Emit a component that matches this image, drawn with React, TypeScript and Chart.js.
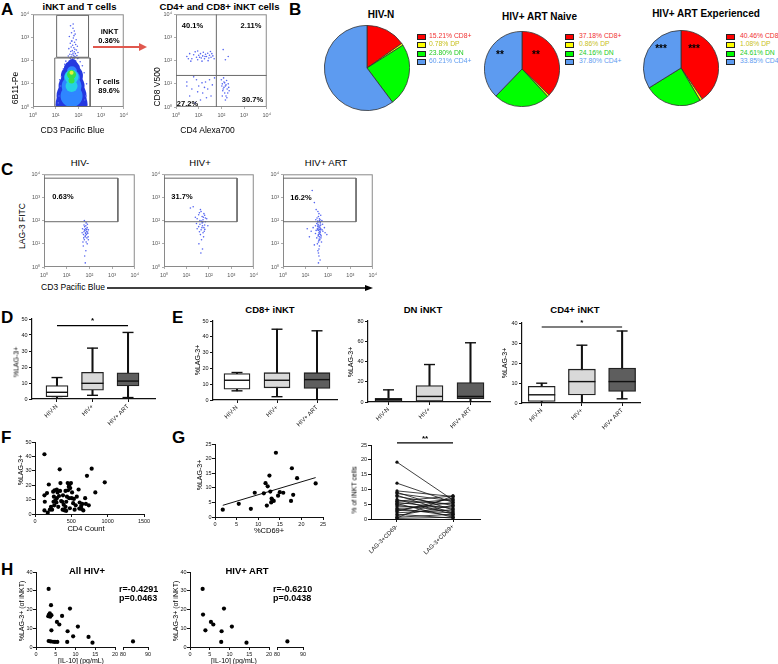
import React, { useEffect, useRef } from 'react';
import { Chart, registerables } from 'chart.js';

Chart.register(...registerables);
const FONT = "'Liberation Sans', Arial, Helvetica, sans-serif";
Chart.defaults.font.family = FONT;
Chart.defaults.color = '#111';

// ---------------- DATA ----------------
// Panel A: flow plots (CD3 vs 6B11, CD4 vs CD8)
const A1_INKT = [[45,3200],[58,2500],[66,1900],[50,1600],[72,1400],[40,1100],[60,950],[80,800],[52,700],[68,620],[44,560],[76,500],[56,460],[90,420],[48,390],[63,360],[38,330],[70,310],[82,290],[54,270],[46,250],[66,240],[96,225],[58,210],[74,200],[42,190],[52,180],[62,172],[86,165],[36,158],[70,150],[48,145],[60,140],[78,136],[104,132],[55,128],[65,126],[44,125],[92,124],[50,700],[64,1200],[59,3800]];
const A1_TSPARSE = [[14,3],[16,8],[13,1.5],[18,20],[22,45],[210,3],[230,10],[180,30],[25,70],[150,60],[190,2],[15,15],[120,90],[28,95]];
const A1_DENS_1 = [[50,1.3,16],[50,3,15],[50,8,13],[52,22,11],[52,45,8],[55,75,4.5],[35,1.2,10],[75,1.2,10]];
const A1_DENS_2 = [[50,3,11],[50,8,10],[52,18,8],[52,35,5]];
const A1_DENS_3 = [[50,8,6],[50,20,7]];
const A1_DENS_4 = [[50,25,4.5],[50,14,3]];
const A1_DENS_5 = [[50,30,2]];
const A1_GATE_INKT = [11, 280, 140, 9000];
const A1_GATE_T = [9.1, 330, 1.05, 130];

const A2_CD8 = [[3,150],[4,200],[5,120],[6,180],[7,240],[8,140],[9,110],[10,170],[12,200],[13,130],[15,160],[16,230],[18,120],[20,190],[22,150],[25,210],[28,130],[30,170],[35,140],[38,200],[42,160],[48,120],[4.5,95],[9,260],[14,95],[26,100],[33,250],[3.5,120],[11,140],[19,150]];
const A2_DN = [[3,12],[5,6],[8,15],[4,3],[10,8],[15,4],[20,12],[6,20],[25,6],[12,2],[30,15],[40,9],[7,1.5],[18,7],[35,3],[3,8],[50,18],[9,4.5],[14,11],[22,2.5]];
const A2_CD4 = [[100,15],[110,10],[120,6],[130,12],[140,4],[150,8],[160,3],[170,14],[180,6],[200,10],[220,5],[110,3],[130,7],[150,2],[125,18],[160,9],[190,4],[140,11],[115,5],[175,2.5],[210,7],[105,8]];
const A2_DP = [[150,110],[200,150],[120,300]];
const A2_QUAD = [60, 23];

// Panel B: pies
const PIE_LABELS = ['CD8+', 'DP', 'DN', 'CD4+'];
const PIE_HIVN = [15.21, 0.78, 23.80, 60.21];
const PIE_NAIVE = [37.18, 0.86, 24.16, 37.80];
const PIE_EXPER = [40.46, 1.08, 24.61, 33.85];

// Panel C: LAG-3 vs CD3
const C_GATE = [1, 1800, 90, 6800];
const C_HIVN = [[60,40],[70,30],[55,25],[80,50],[65,20],[75,35],[50,45],[85,28],[60,15],[70,60],[90,40],[58,33],[66,22],[78,18],[62,55],[72,12],[54,8],[68,45],[82,70],[48,30],[74,25],[64,38],[88,20],[56,18],[76,42],[70,5],[62,3],[80,10],[66,1.5],[60,100],[72,80],[58,65],[84,32],[52,12],[90,15],[68,28]];
const C_HIVP = [[40,100],[50,150],[30,120],[60,200],[45,250],[35,180],[55,110],[25,140],[70,130],[42,300],[48,95],[65,170],[38,220],[20,400],[15,350],[52,60],[40,70],[60,50],[45,40],[35,55],[55,30],[50,80],[65,65],[30,45],[42,25],[58,20],[47,15],[62,35],[36,10],[52,6],[44,4],[70,90],[28,75],[66,42],[54,88],[80,120],[90,60],[38,33],[49,50],[57,140]];
const C_ART = [[35,40],[40,30],[22,50],[45,60],[38,25],[42,20],[18,35],[48,45],[36,70],[44,15],[60,35],[28,28],[40,55],[46,80],[32,18],[38,12],[42,8],[36,5],[40,3],[45,2],[38,1.5],[34,45],[47,25],[70,50],[30,38],[41,42],[39,65],[43,33],[37,22],[49,18],[35,95],[42,120],[38,150],[45,110],[33,130],[40,200],[30,300],[48,170],[36,250],[25,600],[20,2000],[42,100],[55,40],[75,30],[28,60],[15,20],[52,12],[58,70],[44,50],[34,10],[40,6],[25,9],[47,40],[39,38],[43,27],[37,48],[41,16],[50,22],[35,58],[46,32],[44,90],[36,85],[32,75],[48,65],[40,14],[38,4],[54,100],[29,110],[90,25],[12,45]];

// Panel D
const D_CATS = ['HIV-N', 'HIV+', 'HIV+ ART'];
const D_MIN = [0.3, 2.3, 0.9];
const D_Q1 = [1.5, 5.5, 8.2];
const D_MED = [4.2, 9.8, 11.2];
const D_Q3 = [8.4, 16.7, 16.4];
const D_MAX = [13.4, 31.8, 41.6];

// Panel E
const E_CATS = ['HIV-N', 'HIV+', 'HIV+ ART'];
const E_CD8_MIN = [5.8, 2.1, 0];
const E_CD8_Q1 = [6.9, 7.7, 7.3];
const E_CD8_MED = [12.5, 12.5, 12.9];
const E_CD8_Q3 = [16.8, 17.3, 17.3];
const E_CD8_MAX = [17.4, 44.8, 43.8];
const E_DN_MIN = [0, 0, 0];
const E_DN_Q1 = [0.7, 0.7, 3.3];
const E_DN_MED = [2.3, 5.5, 5.5];
const E_DN_Q3 = [3.6, 16.3, 19.3];
const E_DN_MAX = [12, 37, 58.5];
const E_CD4_MIN = [0, 0, 2.1];
const E_CD4_Q1 = [0.8, 4, 5.8];
const E_CD4_MED = [4.1, 10.7, 10.7];
const E_CD4_Q3 = [8.3, 16.9, 17.4];
const E_CD4_MAX = [9.9, 28.9, 36];

// Panel F
const F_CD4 = [130,340,780,715,960,830,130,135,130,190,165,175,205,235,250,260,270,280,295,300,310,320,330,345,350,360,375,385,395,400,410,420,430,440,450,455,465,475,485,495,505,510,525,535,545,560,575,600,615,635,650,665,690,700,740,640,255,265,220,300,420,480,430,380,470,610];
const F_LAG3 = [41.5,31,31.5,26.5,22,15,13,8.5,2.5,20.5,14.5,1,3,3,15.5,12,16.5,9.5,8,11,15,5,12.5,16,21.5,9,8.5,13,6.5,3,2.5,5,8.5,12,21.5,16.5,19,20.5,18,21.5,11,15,7.5,10.5,3,6,12,17,8,5.5,7,2.5,11,7,6,3.5,8.5,6,5,17,16,4,2.2,3,11,3.8];

// Panel G
const G_CD69 = [1.8,5.5,8.3,9.2,11.3,11.7,12.0,12.2,12.6,12.8,13.0,13.1,13.3,13.6,14.1,14.6,15.0,15.8,17.6,17.8,18.1,19.0,23.3];
const G_LAG3 = [2.5,4.5,2.8,8.3,8.1,11.6,3.9,10.5,14.2,8.7,5.0,6.3,5.8,5.5,22.0,7.3,8.5,8.3,5.5,16.7,7.6,13.3,11.5];
const G_FIT_X = [1.8, 23.3];
const G_FIT_Y = [4.0, 13.5];
const P_CATS = ['LAG-3+CD69-', 'LAG-3+CD69+'];
const P_NEG = [19.2,12.1,9.5,9.0,8.6,8.0,7.6,6.6,6.2,6.0,5.6,5.2,5.0,4.6,4.1,3.6,3.1,3.0,2.6,2.1,1.6,1.1,0.6,0.4,0.2];
const P_POS = [6.4,5.6,7.6,3.1,6.1,2.0,4.6,1.6,5.1,7.8,3.6,0.6,6.6,2.6,4.1,1.1,5.6,2.1,7.1,3.1,0.3,4.6,1.6,7.8,0.6];

// Panel H
const H1_IL10 = [3.2,3.8,3.3,3.1,3.9,3.5,3.6,3.9,3.2,3.7,4.3,4.8,5.4,5.3,5.9,6.6,8.6,8.0,7.9,9.4,10.6,13.3,14.3,84];
const H1_LAG3 = [31,22.3,17.3,16.4,17,17.9,16.2,8.9,3.2,3,2.8,2.7,2.7,13.4,12,16.6,20.5,8.4,2.7,5.7,10.9,5.4,2.3,3];
const H2_IL10 = [3.2,3.3,3.9,5.3,5.9,8.6,8.0,7.9,10.6,14.3,84];
const H2_LAG3 = [31,17.3,8.9,13.4,12,20.5,8.4,2.7,10.9,2.3,3];

// ---------------- STYLE ----------------
const PIE_COLORS = ['#ff0000', '#ffff00', '#00ff00', '#5d9bf0'];
const PIE_TEXT = ['#f03030', '#c8c020', '#22cc22', '#5d9bf0'];
const SUP = ['⁰', '¹', '²', '³', '⁴'];
const LOG_TICKS = [1, 10, 100, 1000, 10000];
const DOT = '#5565f0';

// ---------------- PLUGINS ----------------
const sigPlugin = {
  id: 'sig',
  afterDatasetsDraw(chart: any, _a: any, o: any) {
    if (!o || !o.lines) return;
    const { ctx, scales } = chart;
    for (const l of o.lines) {
      const x1 = scales.x.getPixelForValue(l.from);
      const x2 = scales.x.getPixelForValue(l.to);
      const y = scales.y.getPixelForValue(l.y);
      ctx.save();
      ctx.strokeStyle = '#000';
      ctx.lineWidth = 1.2;
      ctx.beginPath();
      ctx.moveTo(x1, y);
      ctx.lineTo(x2, y);
      ctx.stroke();
      ctx.fillStyle = '#000';
      ctx.font = `bold 8px ${FONT}`;
      ctx.textAlign = 'center';
      ctx.textBaseline = 'bottom';
      ctx.fillText(l.text, (x1 + x2) / 2, y - 0.5);
      ctx.restore();
    }
  },
};
const framePlugin = {
  id: 'frame',
  beforeDatasetsDraw(chart: any, _a: any, o: any) {
    if (!o || !o.color) return;
    const { ctx, chartArea } = chart;
    ctx.save();
    ctx.strokeStyle = o.color;
    ctx.lineWidth = 1;
    ctx.strokeRect(chartArea.left + 0.5, chartArea.top + 0.5, chartArea.right - chartArea.left - 1, chartArea.bottom - chartArea.top - 1);
    ctx.restore();
  },
};
Chart.register(sigPlugin as any, framePlugin as any);

// ---------------- HELPERS ----------------
type Box = { x: number; y: number; w: number; h: number; ml: number; mt: number; mr: number; mb: number };
function box(L: number, T: number, R: number, B: number, ml: number, mt: number, mr: number, mb: number): Box {
  return { x: L - ml, y: T - mt, w: R - L + ml + mr, h: B - T + mt + mb, ml, mt, mr, mb };
}
function base(b: Box, yShown = true) {
  return {
    responsive: false,
    animation: false,
    devicePixelRatio: 1,
    events: [],
    layout: { autoPadding: false, padding: { left: yShown ? 0 : b.ml, top: b.mt, right: b.mr, bottom: 0 } },
  };
}
const NOPLUG = { legend: { display: false }, tooltip: { enabled: false } };
const pts = (arr: number[][]) => arr.map(([x, y]) => ({ x, y }));
const zipPts = (xs: number[], ys: number[]) => xs.map((x, i) => ({ x, y: ys[i] }));
const rectPts = (g: number[]) => [
  { x: g[0], y: g[2] }, { x: g[0], y: g[3] }, { x: g[1], y: g[3] }, { x: g[1], y: g[2] }, { x: g[0], y: g[2] },
];
const axisGrid = { display: true, drawOnChartArea: false, drawTicks: true, tickLength: 3, color: '#111', lineWidth: 1 };
const axisBorder = { display: true, color: '#111', width: 1.2 };
const plain = (v: number) => String(v);

function logAxis(isX: boolean, b: Box) {
  return {
    type: 'logarithmic',
    min: 1,
    max: 10000,
    afterBuildTicks: (s: any) => { s.ticks = LOG_TICKS.map((v) => ({ value: v })); },
    afterFit: (s: any) => { if (isX) s.height = b.mb; else s.width = b.ml; },
    ticks: {
      autoSkip: false, maxRotation: 0, minRotation: 0, padding: isX ? 3 : 2, color: '#555', font: { size: 5.5 },
      callback: (v: number) => '10' + SUP[Math.round(Math.log10(v))],
    },
    grid: { display: true, drawOnChartArea: false, drawTicks: true, tickLength: 2, color: '#999', lineWidth: 0.8 },
    border: { display: false },
  };
}

function flowConfig(b: Box, bubbles: { d: number[][]; c: string }[], dots: { d: number[][]; c: string }[], lines: { x: number; y: number }[][]) {
  const datasets: any[] = [];
  bubbles.forEach((l, i) => datasets.push({ type: 'bubble', data: l.d.map(([x, y, r]) => ({ x, y, r })), backgroundColor: l.c, borderWidth: 0, clip: 0, order: 20 - i }));
  dots.forEach((s) => datasets.push({ type: 'scatter', data: pts(s.d), backgroundColor: s.c, pointRadius: 0.8, pointBorderWidth: 0, clip: 0, order: 5 }));
  lines.forEach((ln) => datasets.push({ type: 'line', data: ln, borderColor: '#6a6a6a', borderWidth: 1, pointRadius: 0, fill: false, order: 1 }));
  return {
    type: 'scatter',
    data: { datasets },
    options: { ...base(b), scales: { x: logAxis(true, b), y: logAxis(false, b) }, plugins: { ...NOPLUG, frame: { color: '#8a8a8a' } } },
  };
}

function boxConfig(b: Box, cats: string[], mn: number[], q1: number[], md: number[], q3: number[], mx: number[], fills: string[], yMax: number, yStep: number, xMin: number, xMax: number, bw: number, sig: any[], yPad: number) {
  const xy = (arr: number[]) => arr.map((y, i) => ({ x: i, y }));
  const rng = (a: number[], c: number[]) => a.map((v, i) => ({ x: i, y: [v, c[i]] }));
  const mark = (arr: number[], r: number) => ({ type: 'scatter', data: xy(arr), pointStyle: 'line', pointRadius: r, pointBorderColor: '#111', pointBorderWidth: 1.4, order: 1 });
  return {
    type: 'bar',
    data: {
      datasets: [
        { type: 'bar', data: rng(mn, mx), backgroundColor: '#111', barThickness: 1.4, grouped: false, order: 3 },
        { type: 'bar', data: rng(q1, q3), backgroundColor: fills, borderColor: '#222', borderWidth: 1.3, borderSkipped: false, barThickness: bw, grouped: false, order: 2 },
        mark(md, bw / 2),
        mark(mn, 5.5),
        mark(mx, 5.5),
      ],
    },
    options: {
      ...base(b),
      scales: {
        x: {
          type: 'linear', min: xMin, max: xMax, offset: false,
          afterBuildTicks: (s: any) => { s.ticks = cats.map((_, i) => ({ value: i })); },
          afterFit: (s: any) => { s.height = b.mb; },
          ticks: { autoSkip: false, minRotation: 45, maxRotation: 45, padding: 1, font: { size: 6 }, callback: (v: number) => cats[v] },
          grid: { ...axisGrid, offset: false },
          border: axisBorder,
        },
        y: {
          type: 'linear', min: 0, max: yMax,
          afterFit: (s: any) => { s.width = b.ml; },
          ticks: { stepSize: yStep, padding: yPad, font: { size: 5.5 } },
          grid: axisGrid,
          border: axisBorder,
        },
      },
      plugins: { ...NOPLUG, sig: { lines: sig } },
    },
  };
}

function scatterConfig(b: Box, datasets: any[], x: any, y: any, yShown = true) {
  return {
    type: 'scatter',
    data: { datasets },
    options: {
      ...base(b, yShown),
      scales: {
        x: {
          type: 'linear', min: x.min, max: x.max,
          afterFit: (s: any) => { s.height = b.mb; },
          ticks: { stepSize: x.step, padding: 1, font: { size: 5.5 }, maxRotation: 0, autoSkip: false, callback: plain },
          grid: axisGrid, border: { ...axisBorder, width: 1 },
        },
        y: yShown
          ? {
              type: 'linear', min: y.min, max: y.max,
              afterFit: (s: any) => { s.width = b.ml; },
              ticks: { stepSize: y.step, padding: 0.5, font: { size: 5.5 }, callback: plain },
              grid: axisGrid, border: { ...axisBorder, width: 1 },
            }
          : { display: false, min: y.min, max: y.max },
      },
      plugins: NOPLUG,
    },
  };
}

const blackDots = (data: any[]) => ({ type: 'scatter', data, backgroundColor: '#000', pointRadius: 2.1, pointBorderWidth: 0 });

function ChartCanvas({ b, config }: { b: Box; config: () => any }) {
  const ref = useRef<HTMLCanvasElement>(null);
  useEffect(() => {
    const chart = new Chart(ref.current as HTMLCanvasElement, config());
    return () => chart.destroy();
  }, []);
  return <canvas ref={ref} width={b.w} height={b.h} style={{ position: 'absolute', left: b.x, top: b.y, width: b.w, height: b.h }} />;
}

function T({ x, y, s = 8, b = false, a = 'c', c = '#000', children }: any) {
  const tx = a === 'c' ? '-50%' : a === 'r' ? '-100%' : '0';
  return (
    <div style={{ position: 'absolute', left: x, top: y - 0.8465 * s, fontSize: s, lineHeight: `${s}px`, fontWeight: b ? 'bold' : 'normal', color: c, whiteSpace: 'nowrap', transform: `translateX(${tx})` }}>
      {children}
    </div>
  );
}
function VT({ x, y, s = 7, children }: any) {
  return (
    <div style={{ position: 'absolute', left: x, top: y, fontSize: s, lineHeight: `${s}px`, whiteSpace: 'nowrap', color: '#000', transform: 'translate(-50%,-50%) rotate(-90deg)' }}>
      {children}
    </div>
  );
}

function Pie({ cx, cy, r, values }: { cx: number; cy: number; r: number; values: number[] }) {
  const b = box(cx - r - 1, cy - r - 1, cx + r + 1, cy + r + 1, 0, 0, 0, 0);
  return (
    <ChartCanvas
      b={b}
      config={() => ({
        type: 'pie',
        data: { labels: PIE_LABELS, datasets: [{ data: values, backgroundColor: PIE_COLORS, borderColor: '#333', borderWidth: 0.8, hoverOffset: 0, offset: 0 }] },
        options: { responsive: false, animation: false, devicePixelRatio: 1, events: [], layout: { autoPadding: false, padding: 0 }, plugins: NOPLUG },
      })}
    />
  );
}
function PieLegend({ x, tx, y0, values }: { x: number; tx: number; y0: number; values: number[] }) {
  return (
    <>
      {values.map((v, i) => {
        const y = y0 + i * 8.5;
        return (
          <React.Fragment key={i}>
            <div style={{ position: 'absolute', left: x, top: y - 2.5, width: 7, height: 4, background: PIE_COLORS[i], border: '0.8px solid #222' }} />
            <T x={tx} y={y + 2.4} s={6.8} a="l" c={PIE_TEXT[i]}>{`${v.toFixed(2)}%  ${PIE_LABELS[i]}`}</T>
          </React.Fragment>
        );
      })}
    </>
  );
}

// ---------------- LAYOUT ----------------
const bA1 = box(33, 13, 125, 107, 14, 4, 6, 12);
const bA2 = box(176, 13, 268, 107, 14, 4, 6, 12);
const bC1 = box(44, 173, 136, 267, 14, 4, 6, 12);
const bC2 = box(164, 173, 255, 267, 14, 4, 6, 12);
const bC3 = box(283, 173, 374, 267, 14, 4, 6, 12);
const bD = box(32, 319, 155, 399, 16, 6, 4, 34);
const bE1 = box(213, 321, 337, 400, 16, 6, 4, 34);
const bE2 = box(368, 321, 490, 402, 16, 6, 4, 34);
const bE3 = box(522, 323, 640, 403, 16, 8, 4, 34);
const bF = box(35, 442, 144, 514, 16, 5, 10, 14);
const bG = box(215, 444, 323, 517, 16, 5, 8, 14);
const bP = box(371, 445, 480, 519, 16, 12, 4, 42);
const bH1a = box(36, 572, 115, 647, 14, 5, 6, 12);
const bH1b = box(123, 572, 148, 647, 5, 5, 6, 12);
const bH2a = box(190, 572, 269, 647, 14, 5, 6, 12);
const bH2b = box(277, 572, 303, 647, 5, 5, 6, 12);

const hSplit = (xs: number[], ys: number[], lo: boolean) => zipPts(xs, ys).filter((p) => (lo ? p.x <= 20 : p.x >= 80));

export default function App() {
  return (
    <div style={{ position: 'absolute', left: 0, top: 0, width: 778, height: 664, background: '#fff', overflow: 'hidden', fontFamily: FONT, color: '#000' }}>
      {/* Panel letters */}
      <T x={1} y={15} s={17} b a="l">A</T>
      <T x={289} y={15} s={17} b a="l">B</T>
      <T x={1} y={175} s={17} b a="l">C</T>
      <T x={1} y={323} s={17} b a="l">D</T>
      <T x={172} y={323} s={17} b a="l">E</T>
      <T x={1} y={443} s={17} b a="l">F</T>
      <T x={172} y={443} s={17} b a="l">G</T>
      <T x={1} y={575} s={17} b a="l">H</T>

      {/* A */}
      <T x={79.5} y={10.5} s={9.5} b>iNKT and T cells</T>
      <T x={219.5} y={10.5} s={9.5} b>CD4+ and CD8+ iNKT cells</T>
      <ChartCanvas b={bA1} config={() => flowConfig(bA1,
        [{ d: A1_DENS_1, c: '#2438e0' }, { d: A1_DENS_2, c: '#2f86ff' }, { d: A1_DENS_3, c: '#25d2e4' }, { d: A1_DENS_4, c: '#38e04a' }, { d: A1_DENS_5, c: '#e6f23a' }],
        [{ d: A1_INKT, c: DOT }, { d: A1_TSPARSE, c: DOT }],
        [rectPts(A1_GATE_INKT), rectPts(A1_GATE_T)])} />
      <ChartCanvas b={bA2} config={() => flowConfig(bA2, [],
        [{ d: A2_CD8, c: DOT }, { d: A2_DN, c: DOT }, { d: A2_CD4, c: DOT }, { d: A2_DP, c: DOT }],
        [[{ x: A2_QUAD[0], y: 1 }, { x: A2_QUAD[0], y: 10000 }], [{ x: 1, y: A2_QUAD[1] }, { x: 10000, y: A2_QUAD[1] }]])} />
      <T x={109.5} y={34.5} s={7.5} b>iNKT</T>
      <T x={109} y={43} s={7.5} b>0.36%</T>
      <T x={108} y={84.5} s={7.5} b>T cells</T>
      <T x={109} y={93.5} s={7.5} b>89.6%</T>
      <T x={192.5} y={28} s={7.5} b>40.1%</T>
      <T x={251} y={28} s={7.5} b>2.11%</T>
      <T x={187.5} y={106.5} s={7.5} b>27.2%</T>
      <T x={252.5} y={102} s={7.5} b>30.7%</T>
      <VT x={15} y={88} s={8.5}>6B11-Pe</VT>
      <T x={72.5} y={133} s={8.5}>CD3 Pacific Blue</T>
      <VT x={157} y={87} s={8.5}>CD8 V500</VT>
      <T x={207.5} y={133} s={8.5}>CD4 Alexa700</T>

      {/* B */}
      <T x={381} y={18.5} s={10} b>HIV-N</T>
      <T x={539.5} y={20} s={10} b>HIV+ ART Naive</T>
      <T x={706} y={17.5} s={10} b>HIV+ ART Experienced</T>
      <Pie cx={367} cy={68} r={42} values={PIE_HIVN} />
      <Pie cx={521.5} cy={68.5} r={37} values={PIE_NAIVE} />
      <Pie cx={681} cy={68} r={37} values={PIE_EXPER} />
      <PieLegend x={417} tx={429} y0={36} values={PIE_HIVN} />
      <PieLegend x={565} tx={579} y0={36} values={PIE_NAIVE} />
      <PieLegend x={726} tx={740} y0={36} values={PIE_EXPER} />
      <T x={500} y={58} s={10} b>**</T>
      <T x={536} y={58} s={10} b>**</T>
      <T x={661} y={52} s={10} b>***</T>
      <T x={694} y={52} s={10} b>***</T>

      {/* C */}
      <T x={80} y={166.5} s={9.5}>HIV-</T>
      <T x={200} y={166.5} s={9.5}>HIV+</T>
      <T x={326} y={166.5} s={9.5}>HIV+ ART</T>
      <ChartCanvas b={bC1} config={() => flowConfig(bC1, [], [{ d: C_HIVN, c: DOT }], [rectPts(C_GATE)])} />
      <ChartCanvas b={bC2} config={() => flowConfig(bC2, [], [{ d: C_HIVP, c: DOT }], [rectPts(C_GATE)])} />
      <ChartCanvas b={bC3} config={() => flowConfig(bC3, [], [{ d: C_ART, c: DOT }], [rectPts(C_GATE)])} />
      <T x={63} y={199.5} s={7.5} b>0.63%</T>
      <T x={182} y={199.5} s={7.5} b>31.7%</T>
      <T x={301} y={200.5} s={7.5} b>16.2%</T>
      <VT x={21.5} y={226} s={8.5}>LAG-3 FITC</VT>
      <T x={73} y={290} s={8.5}>CD3 Pacific Blue</T>

      {/* D */}
      <ChartCanvas b={bD} config={() => boxConfig(bD, D_CATS, D_MIN, D_Q1, D_MED, D_Q3, D_MAX, ['#ffffff', '#d9d9d9', '#5e5e5e'], 50, 10, -0.704, 2.76, 22, [{ from: 0, to: 2, y: 45.8, text: '*' }], 1.5)} />
      <VT x={15.5} y={362} s={7}>%LAG-3+</VT>

      {/* E */}
      <T x={270} y={313.5} s={9.5} b>CD8+ iNKT</T>
      <T x={423} y={313.5} s={9.5} b>DN iNKT</T>
      <T x={575} y={313.5} s={9.5} b>CD4+ iNKT</T>
      <ChartCanvas b={bE1} config={() => boxConfig(bE1, E_CATS, E_CD8_MIN, E_CD8_Q1, E_CD8_MED, E_CD8_Q3, E_CD8_MAX, ['#ffffff', '#d9d9d9', '#5e5e5e'], 50, 10, -0.6, 2.5, 26, [], 1.5)} />
      <ChartCanvas b={bE2} config={() => boxConfig(bE2, E_CATS, E_DN_MIN, E_DN_Q1, E_DN_MED, E_DN_Q3, E_DN_MAX, ['#ffffff', '#d9d9d9', '#5e5e5e'], 80, 20, -0.5, 2.476, 27, [], 1.5)} />
      <ChartCanvas b={bE3} config={() => boxConfig(bE3, E_CATS, E_CD4_MIN, E_CD4_Q1, E_CD4_MED, E_CD4_Q3, E_CD4_MAX, ['#ffffff', '#d9d9d9', '#5e5e5e'], 40, 10, -0.49, 2.445, 27, [{ from: 0, to: 2, y: 38, text: '*' }], 1.5)} />
      <VT x={197} y={360} s={7}>%LAG-3+</VT>
      <VT x={350} y={362} s={7}>%LAG-3+</VT>
      <VT x={504} y={363} s={7}>%LAG-3+</VT>

      {/* F */}
      <ChartCanvas b={bF} config={() => scatterConfig(bF, [blackDots(zipPts(F_CD4, F_LAG3))], { min: 0, max: 1500, step: 500 }, { min: 0, max: 50, step: 10 })} />
      <VT x={19.5} y={470} s={7}>%LAG-3+</VT>
      <T x={86} y={531} s={7.5}>CD4 Count</T>

      {/* G */}
      <ChartCanvas b={bG} config={() => scatterConfig(bG, [
        blackDots(zipPts(G_CD69, G_LAG3)),
        { type: 'line', data: zipPts(G_FIT_X, G_FIT_Y), borderColor: '#111', borderWidth: 1, pointRadius: 0, fill: false },
      ], { min: 0, max: 25, step: 5 }, { min: 0, max: 25, step: 5 })} />
      <VT x={199} y={475} s={7}>%LAG-3+</VT>
      <T x={269} y={533.5} s={7.5}>%CD69+</T>

      <ChartCanvas b={bP} config={() => ({
        type: 'line',
        data: { datasets: P_NEG.map((v, i) => ({ data: [{ x: 0, y: v }, { x: 1, y: P_POS[i] }], borderColor: '#111', borderWidth: 0.8, pointRadius: 1.6, pointBackgroundColor: '#111', pointBorderWidth: 0, fill: false })) },
        options: {
          ...base(bP),
          scales: {
            x: {
              type: 'linear', min: -0.464, max: 1.482,
              afterBuildTicks: (s: any) => { s.ticks = P_CATS.map((_, i) => ({ value: i })); },
              afterFit: (s: any) => { s.height = bP.mb; },
              ticks: { autoSkip: false, minRotation: 45, maxRotation: 45, padding: 1, font: { size: 6 }, callback: (v: number) => P_CATS[v] },
              grid: axisGrid, border: { ...axisBorder, width: 1 },
            },
            y: {
              type: 'linear', min: 0, max: 25,
              afterFit: (s: any) => { s.width = bP.ml; },
              ticks: { stepSize: 5, padding: 1, font: { size: 5.5 } },
              grid: axisGrid, border: { ...axisBorder, width: 1 },
            },
          },
          plugins: { ...NOPLUG, sig: { lines: [{ from: 0, to: 1, y: 25.7, text: '**' }] } },
        },
      })} />
      <VT x={354} y={490} s={7}>% of  iNKT cells</VT>

      {/* H */}
      <T x={87} y={574.5} s={9.5} b>All HIV+</T>
      <T x={247} y={574.5} s={9.5} b>HIV+ ART</T>
      <ChartCanvas b={bH1a} config={() => scatterConfig(bH1a, [blackDots(hSplit(H1_IL10, H1_LAG3, true))], { min: 0, max: 20, step: 5 }, { min: 0, max: 40, step: 10 })} />
      <ChartCanvas b={bH1b} config={() => scatterConfig(bH1b, [blackDots(hSplit(H1_IL10, H1_LAG3, false))], { min: 80, max: 90, step: 10 }, { min: 0, max: 40, step: 10 }, false)} />
      <ChartCanvas b={bH2a} config={() => scatterConfig(bH2a, [blackDots(hSplit(H2_IL10, H2_LAG3, true))], { min: 0, max: 20, step: 5 }, { min: 0, max: 40, step: 10 })} />
      <ChartCanvas b={bH2b} config={() => scatterConfig(bH2b, [blackDots(hSplit(H2_IL10, H2_LAG3, false))], { min: 80, max: 90, step: 10 }, { min: 0, max: 40, step: 10 }, false)} />
      <VT x={20.5} y={611} s={7}>%LAG-3+  (of iNKT)</VT>
      <VT x={175} y={611} s={7}>%LAG-3+  (of iNKT)</VT>
      <T x={81} y={662.5} s={7}>[IL-10] (pg/mL)</T>
      <T x={234} y={662.5} s={7}>[IL-10] (pg/mL)</T>
      <T x={119} y={592.5} s={9} b a="l">r=-0.4291</T>
      <T x={119} y={601.5} s={9} b a="l">p=0.0463</T>
      <T x={273} y={592.5} s={9} b a="l">r=-0.6210</T>
      <T x={273} y={601.5} s={9} b a="l">p=0.0438</T>

      {/* arrows */}
      <svg style={{ position: 'absolute', left: 0, top: 0 }} width={778} height={664}>
        <line x1={93} y1={47} x2={140} y2={47} stroke="#e0584e" strokeWidth={2} />
        <polygon points="147,47 139,43 139,51" fill="#e0584e" />
        <line x1={107} y1={288} x2={366} y2={288} stroke="#000" strokeWidth={1.5} />
        <polygon points="373,288 365,285 365,291" fill="#000" />
      </svg>
    </div>
  );
}
